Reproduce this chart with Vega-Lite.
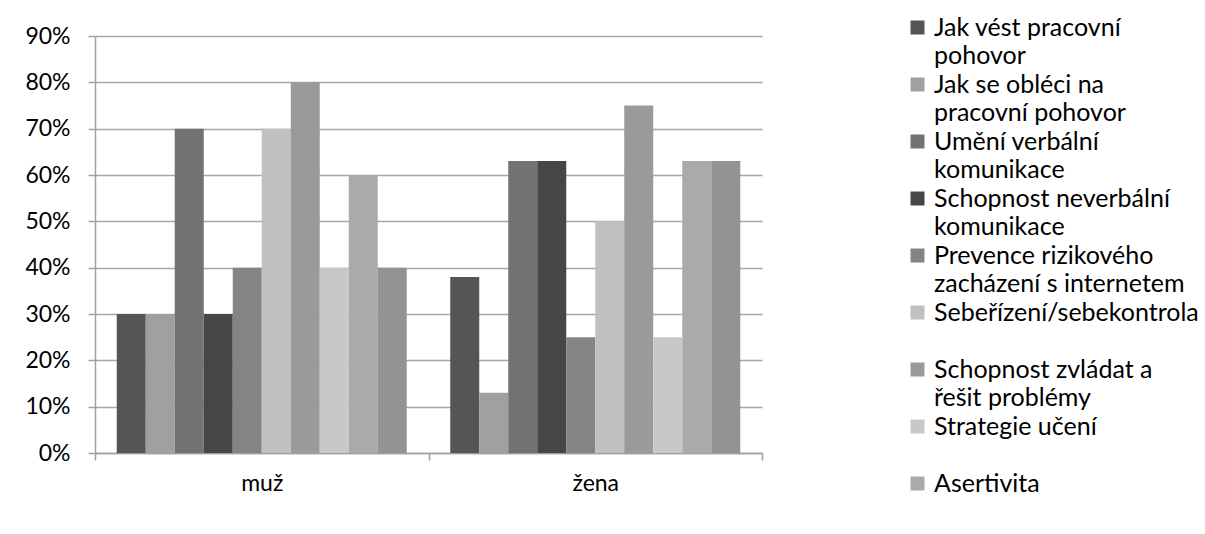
{
  "$schema": "https://vega.github.io/schema/vega-lite/v6.json",
  "width": 667,
  "height": 417,
  "autosize": {"type": "none"},
  "padding": {"left": 95, "top": 36, "right": 443, "bottom": 81},
  "background": "white",
  "data": {"values": [
    {"pohlavi": "muž", "oblast": "Jak vést pracovní pohovor", "podil": 0.30},
    {"pohlavi": "muž", "oblast": "Jak se obléci na pracovní pohovor", "podil": 0.30},
    {"pohlavi": "muž", "oblast": "Umění verbální komunikace", "podil": 0.70},
    {"pohlavi": "muž", "oblast": "Schopnost neverbální komunikace", "podil": 0.30},
    {"pohlavi": "muž", "oblast": "Prevence rizikového zacházení s internetem", "podil": 0.40},
    {"pohlavi": "muž", "oblast": "Sebeřízení/sebekontrola", "podil": 0.70},
    {"pohlavi": "muž", "oblast": "Schopnost zvládat a řešit problémy", "podil": 0.80},
    {"pohlavi": "muž", "oblast": "Strategie učení", "podil": 0.40},
    {"pohlavi": "muž", "oblast": "Asertivita", "podil": 0.60},
    {"pohlavi": "muž", "oblast": "Jiné", "podil": 0.40},
    {"pohlavi": "žena", "oblast": "Jak vést pracovní pohovor", "podil": 0.38},
    {"pohlavi": "žena", "oblast": "Jak se obléci na pracovní pohovor", "podil": 0.13},
    {"pohlavi": "žena", "oblast": "Umění verbální komunikace", "podil": 0.63},
    {"pohlavi": "žena", "oblast": "Schopnost neverbální komunikace", "podil": 0.63},
    {"pohlavi": "žena", "oblast": "Prevence rizikového zacházení s internetem", "podil": 0.25},
    {"pohlavi": "žena", "oblast": "Sebeřízení/sebekontrola", "podil": 0.50},
    {"pohlavi": "žena", "oblast": "Schopnost zvládat a řešit problémy", "podil": 0.75},
    {"pohlavi": "žena", "oblast": "Strategie učení", "podil": 0.25},
    {"pohlavi": "žena", "oblast": "Asertivita", "podil": 0.63},
    {"pohlavi": "žena", "oblast": "Jiné", "podil": 0.63}
  ]},
  "mark": {"type": "bar"},
  "encoding": {
    "x": {
      "field": "pohlavi", "type": "nominal", "sort": ["muž", "žena"],
      "scale": {"paddingInner": 0, "paddingOuter": 0},
      "axis": {"title": null, "labelAngle": 0, "labelFont": "Lato", "labelFontSize": 23, "labelColor": "#000000",
               "labelPadding": 12, "tickBand": "extent", "tickSize": 7, "tickColor": "#a0a0a0", "tickWidth": 1.5,
               "domainColor": "#a0a0a0", "domainWidth": 1.5, "grid": false}
    },
    "xOffset": {
      "field": "oblast", "type": "nominal",
      "sort": ["Jak vést pracovní pohovor", "Jak se obléci na pracovní pohovor", "Umění verbální komunikace", "Schopnost neverbální komunikace", "Prevence rizikového zacházení s internetem", "Sebeřízení/sebekontrola", "Schopnost zvládat a řešit problémy", "Strategie učení", "Asertivita", "Jiné"],
      "scale": {"paddingInner": 0, "paddingOuter": 0.75}
    },
    "y": {
      "field": "podil", "type": "quantitative",
      "scale": {"domain": [0, 0.9], "nice": false},
      "axis": {"title": null, "format": ".0%", "values": [0, 0.1, 0.2, 0.3, 0.4, 0.5, 0.6, 0.7, 0.8, 0.9],
               "labelFont": "Lato", "labelFontSize": 23, "labelColor": "#000000", "labelPadding": 18,
               "tickSize": 7, "tickColor": "#a0a0a0", "tickWidth": 1.5,
               "domainColor": "#a0a0a0", "domainWidth": 1.5,
               "grid": true, "gridColor": "#a6a6a6", "gridWidth": 1.5}
    },
    "color": {
      "field": "oblast", "type": "nominal",
      "sort": ["Jak vést pracovní pohovor", "Jak se obléci na pracovní pohovor", "Umění verbální komunikace", "Schopnost neverbální komunikace", "Prevence rizikového zacházení s internetem", "Sebeřízení/sebekontrola", "Schopnost zvládat a řešit problémy", "Strategie učení", "Asertivita", "Jiné"],
      "scale": {
        "domain": ["Jak vést pracovní pohovor", "Jak se obléci na pracovní pohovor", "Umění verbální komunikace", "Schopnost neverbální komunikace", "Prevence rizikového zacházení s internetem", "Sebeřízení/sebekontrola", "Schopnost zvládat a řešit problémy", "Strategie učení", "Asertivita", "Jiné"],
        "range": ["#555555", "#a0a0a0", "#727272", "#464646", "#848484", "#c0c0c0", "#9a9a9a", "#c8c8c8", "#aaaaaa", "#939393"]
      },
      "legend": {
        "title": null,
        "orient": "none",
        "legendX": 810,
        "legendY": -21,
        "values": ["Jak vést pracovní pohovor", "Jak se obléci na pracovní pohovor", "Umění verbální komunikace", "Schopnost neverbální komunikace", "Prevence rizikového zacházení s internetem", "Sebeřízení/sebekontrola", "Schopnost zvládat a řešit problémy", "Strategie učení", "Asertivita"],
        "symbolType": "square",
        "symbolSize": 196,
        "symbolStrokeWidth": 0,
        "labelFont": "Lato",
        "labelFontSize": 25,
        "labelColor": "#000000",
        "labelLimit": 400,
        "labelOffset": 4,
        "labelBaseline": "middle",
        "labelExpr": "datum.label == 'Jak vést pracovní pohovor' ? ['Jak vést pracovní', 'pohovor'] : datum.label == 'Jak se obléci na pracovní pohovor' ? ['Jak se obléci na', 'pracovní pohovor'] : datum.label == 'Umění verbální komunikace' ? ['Umění verbální', 'komunikace'] : datum.label == 'Schopnost neverbální komunikace' ? ['Schopnost neverbální', 'komunikace'] : datum.label == 'Prevence rizikového zacházení s internetem' ? ['Prevence rizikového', 'zacházení s internetem'] : datum.label == 'Schopnost zvládat a řešit problémy' ? ['Schopnost zvládat a', 'řešit problémy'] : [datum.label, ' ']",
        "rowPadding": 3
      }
    }
  },
  "config": {
    "view": {"stroke": null},
    "style": {"guide-label": {"lineHeight": 28}}
  }
}
